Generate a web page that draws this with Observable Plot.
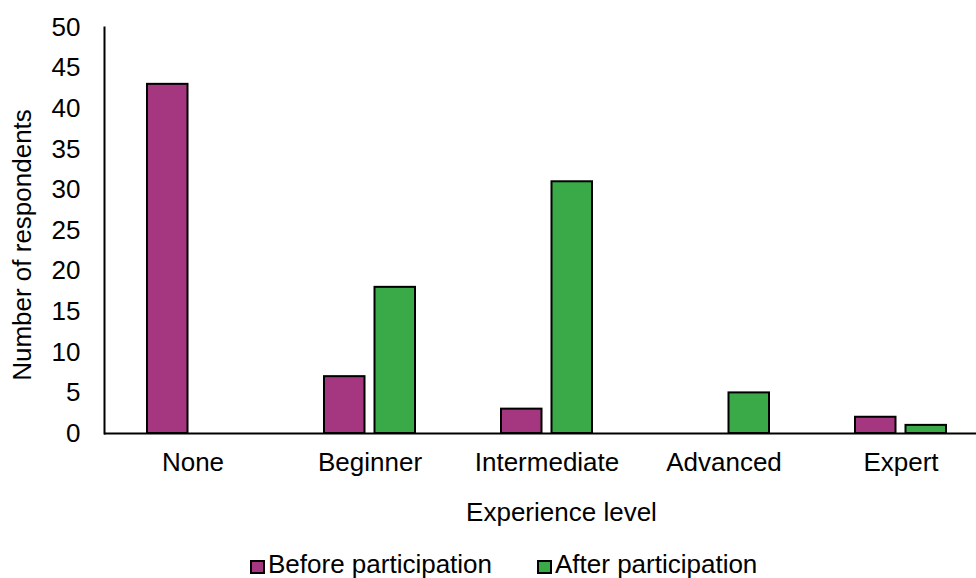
<!DOCTYPE html>
<html>
<head>
<meta charset="utf-8">
<script src="https://cdn.jsdelivr.net/npm/d3@7"></script>
<script src="https://cdn.jsdelivr.net/npm/@observablehq/plot@0.6"></script>
<style>
  html, body { margin: 0; padding: 0; background: #fff; }
  #wrap { position: relative; width: 976px; height: 578px; overflow: hidden; font-family: "Liberation Sans", Arial, sans-serif; }
  #chart svg { display: block; }
  .legend-item { position: absolute; top: 549px; height: 30px; line-height: 30px; font-size: 26px; color: #000; white-space: nowrap; }
  .swatch { position: absolute; top: 11px; left: 0; width: 15px; height: 14px; border: 2px solid #000; box-sizing: border-box; }
  .legend-item span.label { position: absolute; left: 18px; top: 0; }
  #ylabel { position: absolute; left: 22px; top: 245px; font-size: 26px; line-height: 26px; color: #000; white-space: nowrap; transform: translate(-50%, -50%) rotate(-90deg); }
</style>
</head>
<body>
<div id="wrap">
  <div id="chart"></div>
  <div id="ylabel"></div>
  <div id="legend"></div>
</div>
<script>
const categories = ["None", "Beginner", "Intermediate", "Advanced", "Expert"];
const seriesNames = ["Before participation", "After participation"];
const beforeValues = [43, 7, 3, 0, 2];
const afterValues = [0, 18, 31, 5, 1];
const yTicks = [0, 5, 10, 15, 20, 25, 30, 35, 40, 45, 50];
const seriesColors = ["#a4377f", "#3aa947"];
const yLabel = "Number of respondents";
const xLabel = "Experience level";

const data = categories.flatMap((c, i) => [
  {category: c, series: seriesNames[0], value: beforeValues[i]},
  {category: c, series: seriesNames[1], value: afterValues[i]}
]).filter(d => d.value > 0);

const barOpts = {x: "category", y: "value", fill: "series", stroke: "#000", strokeWidth: 2, insetLeft: 68.25, insetRight: 68.25};

const chart = Plot.plot({
  width: 976,
  height: 548,
  marginLeft: 104,
  marginRight: -13,
  marginTop: 27,
  marginBottom: 115,
  style: {fontFamily: "'Liberation Sans', Arial, sans-serif", fontSize: "26px", color: "#000", background: "#fff"},
  x: {domain: categories, padding: 0, label: null},
  y: {domain: [0, 50], label: null},
  color: {domain: seriesNames, range: seriesColors},
  marks: [
    Plot.barY(data.filter(d => d.series === seriesNames[0]), {...barOpts, dx: -25.25}),
    Plot.barY(data.filter(d => d.series === seriesNames[1]), {...barOpts, dx: 25.25}),
    Plot.ruleY([0], {stroke: "#000", strokeWidth: 2}),
    Plot.frame({anchor: "left", stroke: "#000", strokeWidth: 2}),
    Plot.axisY({ticks: yTicks, tickSize: 0, tickPadding: 24, label: null, fontSize: 26}),
    Plot.axisX({tickSize: 0, tickPadding: 19, label: null, fontSize: 26}),
    Plot.text([xLabel], {frameAnchor: "bottom", lineAnchor: "top", dx: 14.5, dy: 69, fontSize: 26, fill: "#000"})
  ]
});
document.getElementById("chart").append(chart);

document.getElementById("ylabel").textContent = yLabel;

const legend = document.getElementById("legend");
const legendLefts = [250, 537];
seriesNames.forEach((name, i) => {
  const item = document.createElement("div");
  item.className = "legend-item";
  item.style.left = legendLefts[i] + "px";
  const sw = document.createElement("span");
  sw.className = "swatch";
  sw.style.background = seriesColors[i];
  const lab = document.createElement("span");
  lab.className = "label";
  lab.textContent = name;
  item.append(sw, lab);
  legend.append(item);
});
</script>
</body>
</html>
